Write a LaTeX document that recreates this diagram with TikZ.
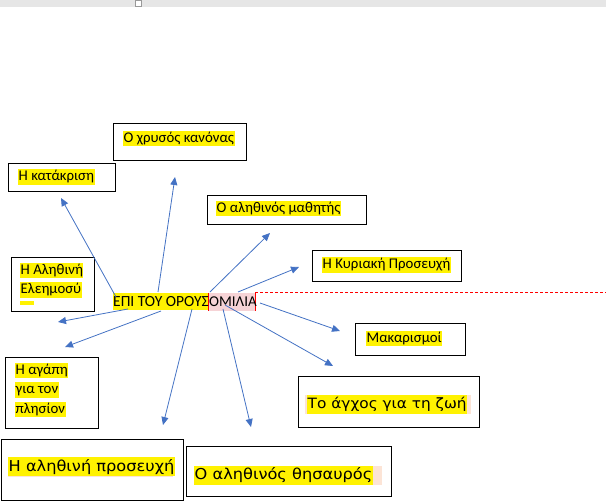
\documentclass[tikz,border=0pt]{standalone}
\usepackage{fontspec}
\setmainfont{Carlito}
\newfontfamily\bigfont[FakeStretch=1.08]{DejaVu Sans}
\usetikzlibrary{arrows.meta}
\definecolor{arrowblue}{HTML}{4472C4}
\definecolor{salmon}{HTML}{FCE4D6}
\definecolor{pinkhl}{HTML}{F6D3D6}
\definecolor{topgray}{HTML}{E6E6E6}
\begin{document}
\begin{tikzpicture}[x=1pt,y=-1pt,
  box/.style={draw=black, line width=0.9pt, inner sep=0pt, anchor=north west},
  hl/.style={fill=yellow, inner xsep=0.5pt, inner ysep=0pt, text height=11.5pt, text depth=4pt, anchor=west, font=\fontsize{14.8}{16}\selectfont},
  bighl/.style={fill=yellow, inner xsep=0.5pt, inner ysep=0pt, text height=14pt, text depth=5pt, anchor=west, font=\bigfont\fontsize{15}{17}\selectfont},
  arr/.style={draw=arrowblue, line width=0.8pt, -{Triangle[length=8pt,width=7pt]}}]
\useasboundingbox (0,0) rectangle (606,502);
\fill[white] (0,0) rectangle (606,502);
% top bar
\fill[topgray] (0,0) rectangle (606,7);
\draw[gray!80, line width=0.8pt, fill=white] (135.5,0.5) rectangle (141.5,6.5);

% boxes
\node[box, minimum width=133pt, minimum height=37pt] (bxA) at (113,123) {};
\node[box, minimum width=107pt, minimum height=28pt] (bxB) at (8,163) {};
\node[box, minimum width=159pt, minimum height=29pt] (bxC) at (207,195) {};
\node[box, minimum width=149pt, minimum height=31pt] (bxD) at (312,250) {};
\node[box, minimum width=110pt, minimum height=32pt] (bxE) at (355,323) {};
\node[box, minimum width=83pt, minimum height=54pt] (bxF) at (11,257) {};
\node[box, minimum width=93pt, minimum height=71pt] (bxG) at (5,357) {};
\node[box, minimum width=182pt, minimum height=61pt] (bxH) at (0.5,439) {};
\node[box, minimum width=205pt, minimum height=50pt] (bxI) at (186,446) {};
\node[box, minimum width=181pt, minimum height=51pt] (bxJ) at (298,376) {};

% labels
\node[hl] (tA) at (123,138.5) {Ο χρυσός κανόνας};
\node[hl] (tB) at (18,177) {Η κατάκριση};
\node[hl] (tC) at (216,208.5) {Ο αληθινός μαθητής};
\node[hl] (tD) at (322,265) {Η Κυριακή Προσευχή};
\node[hl] (tE) at (366,338.5) {Μακαρισμοί};
\node[hl] (tF1) at (20,270.5) {Η Αληθινή};
\node[hl] (tF2) at (20,290) {Ελεημοσύ};
\fill[yellow] (20,301) rectangle (34,305);
\node[hl] (tG1) at (15,370.5) {Η αγάπη};
\node[hl] (tG2) at (15,390) {για τον};
\node[hl] (tG3) at (15,409.5) {πλησίον};

\fill[salmon] (8,457) rectangle (173,477);
\node[bighl] (tH) at (8,467) {Η αληθινή προσευχή};
\fill[salmon] (194,466) rectangle (382,485);
\node[bighl] (tI) at (194,475.5) {Ο αληθινός θησαυρός};
\fill[salmon] (305,395) rectangle (471,414);
\node[bighl, font=\bigfont\fontsize{14.2}{17}\selectfont] (tJ) at (307,404.5) {Το άγχος για τη ζωή};

% centre
\fill[yellow] (113,293) rectangle (208,310);
\fill[pinkhl] (208,293) rectangle (255,311);
\draw[red, line width=0.8pt] (208,293) -- (208,311) (255,293) -- (255,311);
\draw[red, line width=0.8pt, dash pattern=on 3pt off 2pt] (255,292) -- (606,292);
\node[anchor=west, inner sep=0pt, font=\fontsize{15.5}{16}\selectfont] (ctr) at (113,302) {ΕΠΙ ΤΟΥ ΟΡΟΥΣ};
\node[anchor=west, inner sep=0pt, font=\fontsize{15}{16}\selectfont] (ctr2) at (209,302) {ΟΜΙΛΙΑ};

% arrow coordinates
\coordinate (sB) at (116,297); \coordinate (eB) at (61,198);
\coordinate (sA) at (158,292); \coordinate (eA) at (175,177);
\coordinate (sC) at (210,292); \coordinate (eC) at (270,233);
\coordinate (sD) at (238,292); \coordinate (eD) at (299,267);
\coordinate (sF) at (128,309); \coordinate (eF) at (58,322);
\coordinate (sG) at (161,311); \coordinate (eG) at (65,347);
\coordinate (sH) at (192,309); \coordinate (eH) at (163,425);
\coordinate (sI) at (223,309); \coordinate (eI) at (251,427);
\coordinate (sJ) at (225,305); \coordinate (eJ) at (333,366);
\coordinate (sE) at (260,303); \coordinate (eE) at (340,331);

\foreach \k in {A,B,C,D,E,F,G,H,I,J}
  \draw[arr] (s\k) -- (e\k);
\end{tikzpicture}
\end{document}
